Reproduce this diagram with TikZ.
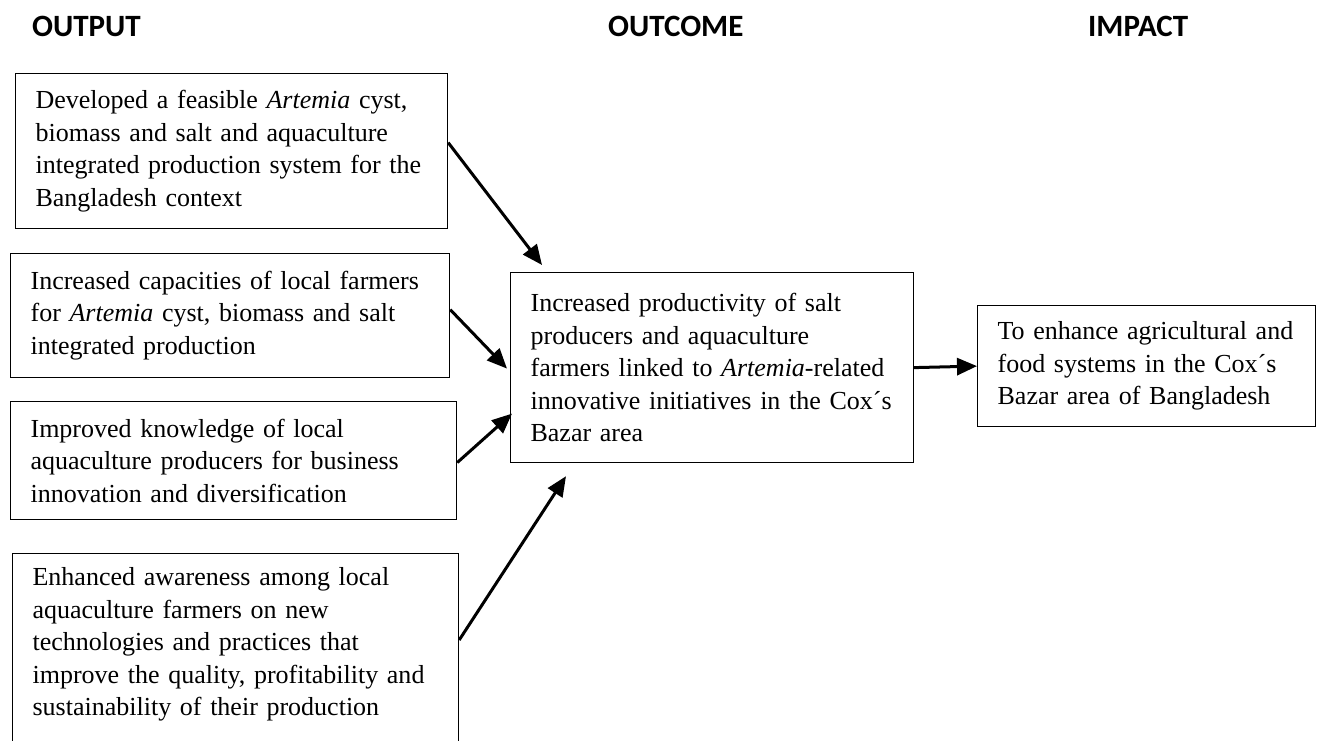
\documentclass[tikz,border=0pt]{standalone}
\usepackage{fontspec}
\setmainfont{Liberation Serif}
\newfontfamily\headfont{Carlito}
\usetikzlibrary{arrows.meta}

\begin{document}
\begin{tikzpicture}[x=1pt,y=-1pt,
	every node/.style={font=\fontsize{26}{32.5}\selectfont},
	box/.style={draw,line width=1.2pt,anchor=north west,align=left,inner xsep=20pt,inner ysep=14pt},
	head/.style={anchor=base west,inner sep=0pt,font=\headfont\bfseries\fontsize{31}{31}\selectfont},
	link/.style={line width=3pt,-{Triangle[length=20pt,width=17pt]}}]
	\useasboundingbox (0,0) rectangle (1319,740);
	\clip (0,0) rectangle (1319,740);
	\node[head] (hout) at (32,36) {OUTPUT};
	\node[head] (hoc) at (608,36) {OUTCOME};
	\node[head] (him) at (1088,36) {IMPACT};
	\node[box,text width=392pt,minimum height=155pt] (dev) at (15,73) {Developed a feasible \textit{Artemia} cyst,\\ biomass and salt and aquaculture\\ integrated production system for the\\ Bangladesh context};
	\node[box,text width=399pt,minimum height=124pt] (cap) at (10,253) {Increased capacities of local farmers\\ for \textit{Artemia} cyst, biomass and salt\\ integrated production};
	\node[box,text width=406pt,minimum height=118pt] (know) at (10,401) {Improved knowledge of local\\ aquaculture producers for business\\ innovation and diversification};
	\node[box,text width=406pt] (aware) at (12,553) {Enhanced awareness among local\\ aquaculture farmers on new\\ technologies and practices that\\ improve the quality, profitability and\\ sustainability of their production\\ ~};
	\node[box,text width=363pt,minimum height=190pt] (res) at (510,272) {Increased productivity of salt\\ producers and aquaculture\\ farmers linked to \textit{Artemia}-related\\ innovative initiatives in the Cox´s\\ Bazar area};
	\node[box,text width=298pt,minimum height=121pt] (imp) at (977,305) {To enhance agricultural and\\ food systems in the Cox´s\\ Bazar area of Bangladesh};
	\draw[link] ([yshift=8.5pt]dev.east) -- ([xshift=32pt,yshift=7pt]res.north west);
	\draw[link] ([yshift=6pt]cap.east) -- ([xshift=-3pt,yshift=-1pt]res.west);
	\draw[link] ([yshift=-2pt]know.east) -- ([xshift=2pt,yshift=-46pt]res.west);
	\draw[link] ([yshift=-87pt]aware.north east) -- ([xshift=56pt,yshift=-13pt]res.south west);
	\draw[link] (res.east) -- (imp.west);
\end{tikzpicture}
\end{document}
